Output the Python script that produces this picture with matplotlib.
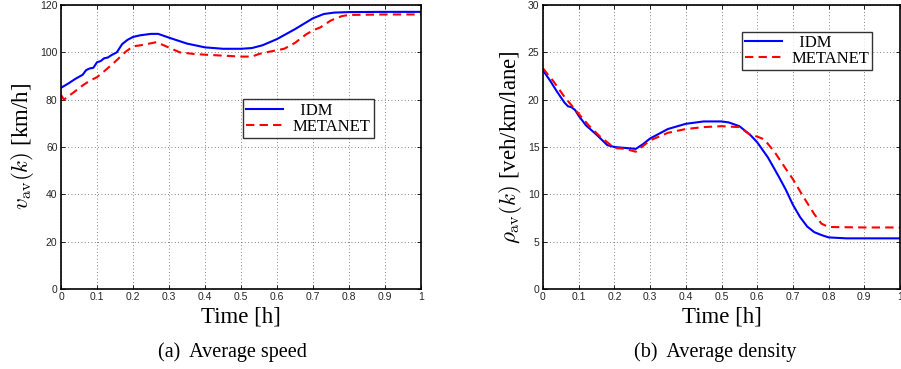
import matplotlib
matplotlib.use("Agg")
import matplotlib.pyplot as plt

# average speed [km/h]
t_v_idm = [0, 0.02, 0.04, 0.06, 0.07, 0.08, 0.09, 0.1, 0.11, 0.12, 0.13, 0.14, 0.155, 0.17, 0.185, 0.2, 0.22, 0.25, 0.27, 0.3, 0.35, 0.4, 0.45, 0.5, 0.53, 0.56, 0.6, 0.65, 0.7, 0.73, 0.76, 0.8, 0.9, 1.0]
v_idm = [85, 86.8, 88.8, 90.5, 92.5, 93.2, 93.5, 95.8, 96.3, 97.5, 97.8, 98.8, 100, 103.5, 105.3, 106.5, 107.2, 107.8, 107.8, 106.2, 103.7, 102.1, 101.5, 101.5, 101.8, 103, 105.6, 109.8, 114.4, 116.2, 116.8, 117, 117.1, 117.1]
t_v_met = [0, 0.008, 0.03, 0.06, 0.08, 0.1, 0.12, 0.15, 0.18, 0.2, 0.23, 0.265, 0.3, 0.33, 0.37, 0.4, 0.45, 0.5, 0.53, 0.55, 0.58, 0.62, 0.65, 0.68, 0.7, 0.72, 0.75, 0.78, 0.8, 0.9, 1.0]
v_met = [82, 80, 82.5, 86, 88, 89.5, 92, 96, 100.3, 102.5, 103.2, 104.3, 102, 100, 99.3, 99, 98.6, 98.2, 98.2, 99.3, 100.3, 101.5, 104, 107.5, 109.3, 110.5, 113.5, 115.3, 115.8, 116, 116]

# average density [veh/km/lane]
t_r_idm = [0, 0.02, 0.04, 0.06, 0.07, 0.08, 0.09, 0.1, 0.12, 0.15, 0.18, 0.2, 0.23, 0.26, 0.28, 0.3, 0.35, 0.4, 0.45, 0.5, 0.52, 0.55, 0.58, 0.6, 0.63, 0.66, 0.68, 0.7, 0.72, 0.74, 0.76, 0.78, 0.8, 0.85, 0.9, 1.0]
r_idm = [23.1, 22.0, 20.8, 19.7, 19.3, 19.2, 18.9, 18.3, 17.3, 16.3, 15.2, 15.0, 14.9, 14.8, 15.3, 15.9, 16.9, 17.45, 17.7, 17.7, 17.6, 17.2, 16.3, 15.5, 13.9, 11.9, 10.5, 8.9, 7.6, 6.6, 6.0, 5.7, 5.45, 5.35, 5.35, 5.35]
t_r_met = [0, 0.03, 0.06, 0.1, 0.13, 0.16, 0.2, 0.23, 0.26, 0.3, 0.35, 0.4, 0.45, 0.5, 0.55, 0.58, 0.6, 0.62, 0.65, 0.68, 0.7, 0.73, 0.76, 0.78, 0.8, 0.9, 1.0]
r_met = [23.3, 21.9, 20.3, 18.5, 17.2, 16.1, 14.9, 14.8, 14.5, 15.7, 16.5, 16.9, 17.1, 17.2, 17.1, 16.3, 16.1, 15.8, 14.4, 12.7, 11.6, 9.7, 7.9, 6.9, 6.55, 6.5, 6.5]

xticks = [0, 0.1, 0.2, 0.3, 0.4, 0.5, 0.6, 0.7, 0.8, 0.9, 1]
xtick_labels = ["0", "0.1", "0.2", "0.3", "0.4", "0.5", "0.6", "0.7", "0.8", "0.9", "1"]

plt.rcParams["mathtext.fontset"] = "cm"
serif = "Liberation Serif"
sans = "Liberation Sans"

fig = plt.figure(figsize=(9.01, 3.69), dpi=100)
ax1 = fig.add_axes([61/901, 1-289/369, 360/901, 284/369])
ax2 = fig.add_axes([543/901, 1-289/369, 357/901, 284/369])

def style(ax, ymax, yticks):
    ax.set_xlim(0, 1)
    ax.set_ylim(0, ymax)
    ax.set_xticks(xticks)
    ax.set_xticklabels(xtick_labels, fontfamily=sans, fontsize=7.5, color="0.15")
    ax.set_yticks(yticks)
    ax.set_yticklabels([str(y) for y in yticks], fontfamily=sans, fontsize=7.5, color="0.15")
    ax.tick_params(direction="in", top=True, right=True, length=3, width=0.6, pad=2.5)
    ax.grid(True, linestyle=(0, (1, 3)), color="0.35", linewidth=0.6)
    for s in ax.spines.values():
        s.set_linewidth(1.2)
    ax.set_xlabel("Time [h]", fontfamily=serif, fontsize=16.5, labelpad=3)

def legend(ax, anchor):
    leg = ax.legend(loc="upper left", bbox_to_anchor=anchor, prop={"family": serif, "size": 12},
                    frameon=True, fancybox=False, edgecolor="black", borderpad=0.2, labelspacing=0.0,
                    handlelength=2.2, handletextpad=0.55, borderaxespad=0)
    leg.get_frame().set_linewidth(1.0)

ax1.plot(t_v_idm, v_idm, color="#0000ff", lw=1.5, label="  IDM")
ax1.plot(t_v_met, v_met, color="#ff0000", lw=1.5, ls=(0, (4, 2.5)), label="METANET")
style(ax1, 120, [0, 20, 40, 60, 80, 100, 120])
ax1.set_ylabel(r"$v_{\rm av}(k)$ [km/h]", fontfamily=serif, fontsize=16.5, labelpad=3)
legend(ax1, (0.506, 0.668))

ax2.plot(t_r_idm, r_idm, color="#0000ff", lw=1.5, label="  IDM")
ax2.plot(t_r_met, r_met, color="#ff0000", lw=1.5, ls=(0, (4, 2.5)), label="METANET")
style(ax2, 30, [0, 5, 10, 15, 20, 25, 30])
ax2.set_ylabel(r"$\rho_{\rm av}(k)$ [veh/km/lane]", fontfamily=serif, fontsize=16.5, labelpad=3)
legend(ax2, (0.557, 0.906))

fig.text(232/901, 1-352/369, "(a)  Average speed", ha="center", va="center", fontfamily=serif, fontsize=14.5)
fig.text(715/901, 1-352/369, "(b)  Average density", ha="center", va="center", fontfamily=serif, fontsize=14.5)

fig.savefig("out.png", dpi=100)
